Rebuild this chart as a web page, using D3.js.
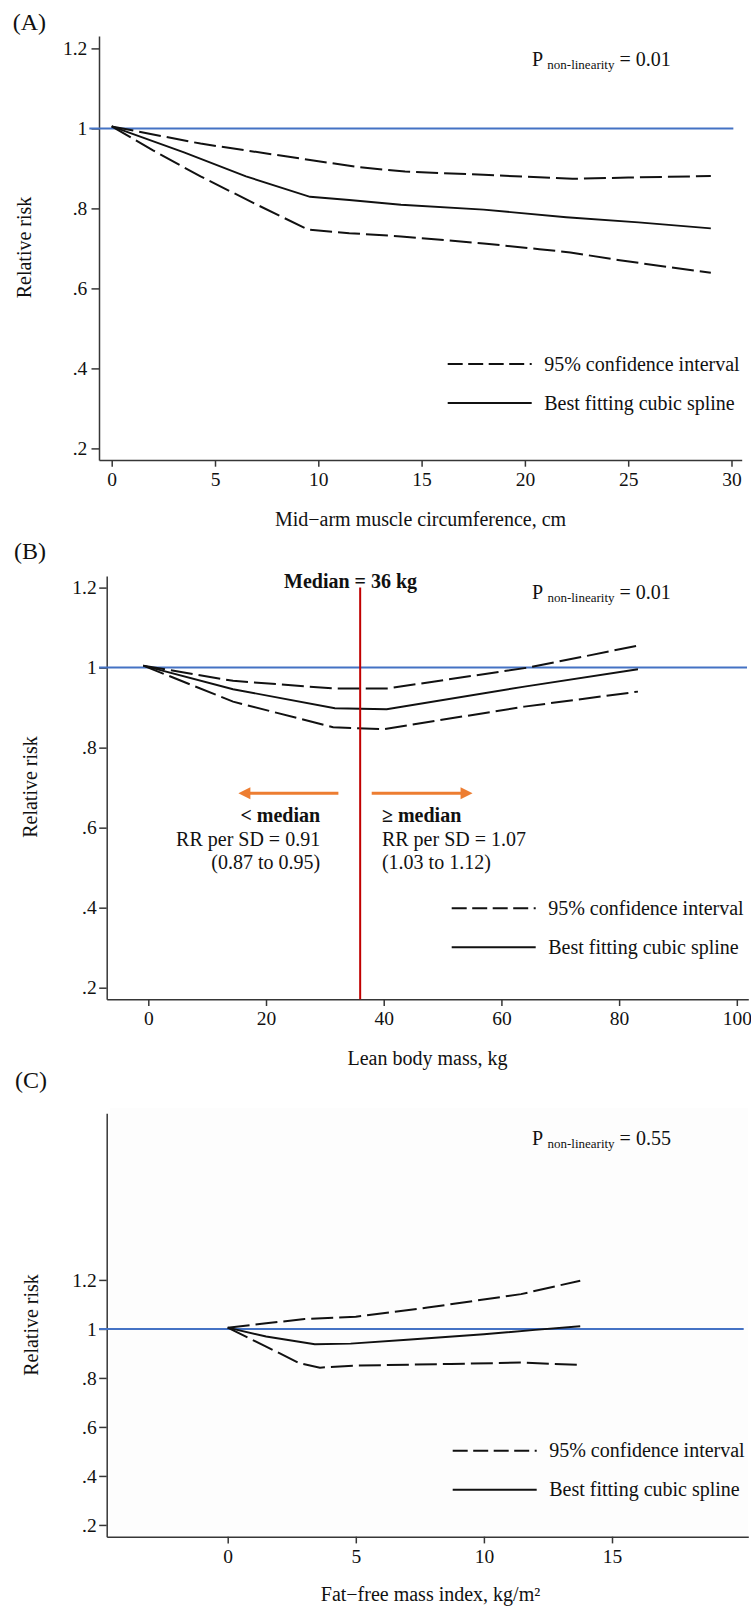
<!DOCTYPE html>
<html>
<head>
<meta charset="utf-8">
<script src="https://cdn.jsdelivr.net/npm/d3@7"></script>
<style>
  html, body { margin: 0; padding: 0; background: #fff; }
  svg { display: block; }
  text { font-family: "Liberation Serif", "Times New Roman", Times, serif; fill: #111; }
</style>
</head>
<body>
<svg id="chart" width="751" height="1610"></svg>
<script>
// ---- Panel A: mid-arm muscle circumference (cm) ----
const splineA = [[0,1.005],[3.5,0.94],[6.5,0.88],[9.6,0.829],[11.5,0.821],[14,0.809],[18,0.797],[22,0.778],[25.5,0.765],[29,0.75]];
const lowerA  = [[0,1.005],[2,0.945],[4.3,0.88],[7,0.81],[9.5,0.747],[11.5,0.738],[14,0.73],[18,0.7125],[20.7,0.698],[22.2,0.69],[24.5,0.671],[29,0.639]];
const upperA  = [[0,1.005],[4.3,0.962],[9.6,0.921],[12,0.903],[14.2,0.892],[18,0.884],[22.3,0.874],[25,0.877],[29,0.881]];

// ---- Panel B: lean body mass (kg) ----
const splineB = [[-0.85,1.005],[14.4,0.946],[31.7,0.8985],[40.5,0.896],[63.9,0.9525],[83.2,0.996]];
const lowerB  = [[-0.85,1.005],[14.4,0.915],[31.4,0.851],[39.9,0.846],[63.9,0.9025],[83.2,0.94]];
const upperB  = [[-0.85,1.005],[14.4,0.967],[31.4,0.948],[40.7,0.948],[64.5,1.0],[74.1,1.028],[83.2,1.055]];
const medianB = 36;

// ---- Panel C: fat-free mass index (kg/m²) ----
const splineC = [[0,1.005],[1.5,0.969],[3.4,0.9375],[4.8,0.94],[7,0.956],[10,0.978],[12,0.996],[13.76,1.011]];
const lowerC  = [[0,1.005],[1.5,0.928],[2.8,0.86],[3.6,0.842],[5,0.85],[8.7,0.857],[11.45,0.8625],[13.76,0.853]];
const upperC  = [[0,1.005],[1.5,1.023],[3,1.04],[5,1.05],[7.8,1.087],[11.45,1.142],[13.76,1.197]];

// ---- axis ticks and labels ----
const yTicks  = [0.2, 0.4, 0.6, 0.8, 1, 1.2];
const xTicksA = [0, 5, 10, 15, 20, 25, 30];
const xTicksB = [0, 20, 40, 60, 80, 100];
const xTicksC = [0, 5, 10, 15];
const refValue = 1;
const legendLabels = ["95% confidence interval", "Best fitting cubic spline"];
const pValues = ["0.01", "0.01", "0.55"];
const belowMedian = ["< median", "RR per SD = 0.91", "(0.87 to 0.95)"];
const aboveMedian = ["\u2265 median", "RR per SD = 1.07", "(1.03 to 1.12)"];

// Panel layout (pixel frames, domains, text placement)
const panels = [
  { tag: "(A)", tagX: 12.7, tagY: 29.5,
    xr: [99, 741.7], yr: [460, 36], xd: [-0.615, 30.494], yd: [0.171, 1.231],
    xTicks: xTicksA, yPad: 4.2, refX: [-1.084, 30.09],
    spline: splineA, lower: lowerA, upper: upperA,
    pPos: [20.34, 1.156], pValue: pValues[0],
    legend: [447.7, 364],
    xTitle: "Mid\u2212arm muscle circumference, cm", xTitleX: 420.5, xTitleY: 526,
    yTitleX: 30.5, yTitleY: 247.5 },
  { tag: "(B)", tagX: 14, tagY: 559,
    xr: [106.7, 748.3], yr: [999.3, 576], xd: [-7.069, 101.95], yd: [0.171, 1.229],
    xTicks: xTicksB, yPad: 2.5, refX: [-8.38, 101.73],
    spline: splineB, lower: lowerB, upper: upperB,
    pPos: [65.2, 1.171], pValue: pValues[1],
    legend: [451.7, 908.3],
    xTitle: "Lean body mass, kg", xTitleX: 427.5, xTitleY: 1065,
    yTitleX: 36.5, yTitleY: 787, median: true },
  { tag: "(C)", tagX: 15, tagY: 1088.4,
    xr: [106.7, 748.3], yr: [1536.7, 1113.3], xd: [-4.723, 20.32], yd: [0.152, 1.880],
    xTicks: xTicksC, yPad: 2.5, refX: [-5.02, 20.14],
    spline: splineC, lower: lowerC, upper: upperC,
    pPos: [11.88, 1.751], pValue: pValues[2],
    legend: [452.7, 1450.7],
    xTitle: "Fat\u2212free mass index, kg/m\u00B2", xTitleX: 430.5, xTitleY: 1601,
    yTitleX: 38, yTitleY: 1325, shade: true }
];

const svg = d3.select("#chart");
svg.append("rect").attr("width", 751).attr("height", 1610).attr("fill", "#fff");

const AXIS = "#363636", BLUE = "#4472c4", RED = "#c00000", ORANGE = "#ed7d31", INK = "#111";
const fmtTick = v => d3.format(".1f")(v).replace(/\.0$/, "").replace(/^0\./, ".");

panels.forEach(p => {
  const g = svg.append("g");
  const x = d3.scaleLinear().domain(p.xd).range(p.xr);
  const y = d3.scaleLinear().domain(p.yd).range(p.yr);

  // faint plot-region tint
  if (p.shade) {
    g.append("rect")
      .attr("x", p.xr[0] + 3).attr("y", p.yr[1] - 5)
      .attr("width", p.xr[1] - p.xr[0] - 3).attr("height", p.yr[0] - p.yr[1] + 4)
      .attr("fill", "#fdfdfd");
  }

  // panel tag
  g.append("text").attr("x", p.tagX).attr("y", p.tagY)
    .attr("font-size", 24).text(p.tag);

  // axes
  const ya = g.append("g").attr("transform", `translate(${p.xr[0]},0)`)
    .call(d3.axisLeft(y).tickValues(yTicks).tickFormat(fmtTick)
      .tickSize(7.5).tickSizeOuter(0).tickPadding(p.yPad));
  const xa = g.append("g").attr("transform", `translate(0,${p.yr[0]})`)
    .call(d3.axisBottom(x).tickValues(p.xTicks).tickFormat(d3.format("d"))
      .tickSize(6.7).tickSizeOuter(0).tickPadding(5.4));
  [ya, xa].forEach(a => {
    a.attr("font-family", null).attr("font-size", null);
    a.selectAll("path, line").attr("stroke", AXIS).attr("stroke-width", 1.5);
    a.selectAll("text").attr("font-size", 19.5).attr("fill", INK);
  });

  // axis titles
  g.append("text").attr("x", p.xTitleX).attr("y", p.xTitleY)
    .attr("text-anchor", "middle").attr("font-size", 20).text(p.xTitle);
  g.append("text")
    .attr("transform", `translate(${p.yTitleX},${p.yTitleY}) rotate(-90)`)
    .attr("text-anchor", "middle").attr("font-size", 20).text("Relative risk");

  // reference line at RR = 1
  g.append("line")
    .attr("x1", x(p.refX[0])).attr("x2", x(p.refX[1]))
    .attr("y1", y(refValue)).attr("y2", y(refValue))
    .attr("stroke", BLUE).attr("stroke-width", 2);

  // spline and confidence band
  const line = d3.line().x(d => x(d[0])).y(d => y(d[1]));
  [p.lower, p.upper].forEach(s => {
    g.append("path").attr("d", line(s)).attr("fill", "none")
      .attr("stroke", INK).attr("stroke-width", 2)
      .attr("stroke-dasharray", "22,6");
  });
  g.append("path").attr("d", line(p.spline)).attr("fill", "none")
    .attr("stroke", INK).attr("stroke-width", 1.9);

  // non-linearity p value
  const pt = g.append("text").attr("x", x(p.pPos[0])).attr("y", y(p.pPos[1]))
    .attr("font-size", 20).style("white-space", "pre");
  pt.append("tspan").text("P ");
  pt.append("tspan").attr("font-size", 13).attr("dy", 3).text("non-linearity");
  pt.append("tspan").attr("dy", -3).text(" = " + p.pValue);

  // legend
  const [lx, ly] = p.legend;
  const lg = g.append("g");
  lg.append("line").attr("x1", lx).attr("x2", lx + 84).attr("y1", ly).attr("y2", ly)
    .attr("stroke", INK).attr("stroke-width", 2).attr("stroke-dasharray", "15,5.5");
  lg.append("line").attr("x1", lx).attr("x2", lx + 84).attr("y1", ly + 39).attr("y2", ly + 39)
    .attr("stroke", INK).attr("stroke-width", 2);
  lg.append("text").attr("x", lx + 96.5).attr("y", ly + 6.5).attr("font-size", 20).text(legendLabels[0]);
  lg.append("text").attr("x", lx + 96.5).attr("y", ly + 45.5).attr("font-size", 20).text(legendLabels[1]);

  // median split annotations
  if (p.median) {
    g.append("line")
      .attr("x1", x(medianB)).attr("x2", x(medianB))
      .attr("y1", y(1.2)).attr("y2", y(p.yd[0]))
      .attr("stroke", RED).attr("stroke-width", 2);
    g.append("text").attr("x", x(23.06)).attr("y", y(1.199))
      .attr("font-size", 20).attr("font-weight", "bold").text("Median = 36 kg");

    const arrowY = y(0.686);
    const arrow = (from, to) => {
      const x0 = x(from), x1 = x(to), dir = Math.sign(x1 - x0);
      g.append("line").attr("x1", x0).attr("x2", x1 - dir * 9).attr("y1", arrowY).attr("y2", arrowY)
        .attr("stroke", ORANGE).attr("stroke-width", 3);
      g.append("path")
        .attr("d", `M${x1},${arrowY} L${x1 - dir * 12},${arrowY - 6} L${x1 - dir * 12},${arrowY + 6} Z`)
        .attr("fill", ORANGE);
    };
    arrow(32.3, 15.3);
    arrow(37.96, 55.1);

    const rows = [0.615, 0.555, 0.497];
    belowMedian.forEach((t, i) => {
      g.append("text").attr("x", x(29.2)).attr("y", y(rows[i]))
        .attr("text-anchor", "end").attr("font-size", 20)
        .attr("font-weight", i === 0 ? "bold" : null).text(t);
    });
    aboveMedian.forEach((t, i) => {
      g.append("text").attr("x", x(39.7)).attr("y", y(rows[i]))
        .attr("font-size", 20)
        .attr("font-weight", i === 0 ? "bold" : null).text(t);
    });
  }
});
</script>
</body>
</html>
